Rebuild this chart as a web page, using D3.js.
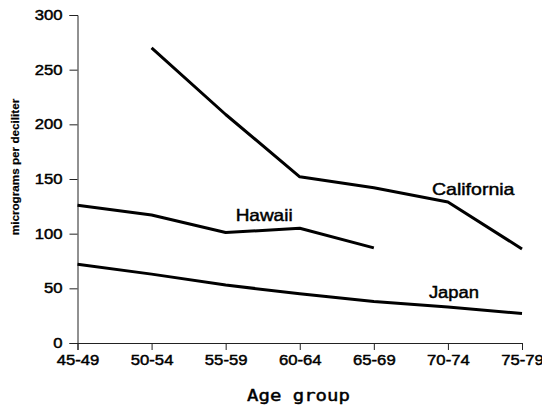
<!DOCTYPE html>
<html>
<head>
<meta charset="utf-8">
<script src="https://cdn.jsdelivr.net/npm/d3@7"></script>
<style>
  body { margin: 0; background: #fff; }
  svg { display: block; }
  .axis path, .axis line { stroke: #222; stroke-width: 1; }
  .axis text { font-family: "Liberation Sans", Arial, sans-serif; fill: #000; }
  /* scanned print looks heavier than a plain regular weight */
  text { stroke: #000; stroke-width: 0.45px; }
</style>
</head>
<body>
<svg id="chart" width="542" height="408"></svg>
<script>
var ageGroups = ["45-49", "50-54", "55-59", "60-64", "65-69", "70-74", "75-79"];
var yTicks = [0, 50, 100, 150, 200, 250, 300];

// null = no value for that age group
var california = [null, 270, 209, 152, 142, 129, 86];
var hawaii = [126, 117, 101, 105, 87, null, null];
var japan = [72, 63, 53, 45, 38, 33, 27];

var seriesNames = ["California", "Hawaii", "Japan"];

var STRETCH = 1.15; // the scan is a bit wider than tall

var svg = d3.select("#chart");

var xScale = d3.scalePoint().domain(ageGroups).range([77.5, 522]);
var yScale = d3.scaleLinear().domain([0, 300]).range([343, 15]);

function stretchText(sel) {
    sel.each(function () {
        var len = this.getComputedTextLength();
        d3.select(this)
            .attr("textLength", len * STRETCH)
            .attr("lengthAdjust", "spacingAndGlyphs");
    });
}

var xAxis = d3.axisBottom(xScale).tickSize(7).tickPadding(5);
var gx = svg.append("g")
    .attr("class", "axis")
    .attr("transform", "translate(0,343)")
    .call(xAxis);
gx.selectAll("text").style("font-size", "14.5px").attr("dy", "0.71em");

var yAxis = d3.axisLeft(yScale).tickValues(yTicks).tickSize(8).tickPadding(7);
var gy = svg.append("g")
    .attr("class", "axis")
    .attr("transform", "translate(77.5,0)")
    .call(yAxis);
gy.selectAll("text").style("font-size", "14.5px");

gx.selectAll("text").call(stretchText);
gy.selectAll("text").call(stretchText);

var line = d3.line()
    .defined(function (d) { return d != null; })
    .x(function (d, i) { return xScale(ageGroups[i]); })
    .y(function (d) { return yScale(d); });

svg.append("g")
    .selectAll("path")
    .data([california, hawaii, japan])
    .enter().append("path")
    .attr("d", line)
    .attr("fill", "none")
    .attr("stroke", "#000")
    .attr("stroke-width", 3)
    .attr("stroke-linejoin", "round");

// series labels, placed next to their lines
var labelPos = [
    { x: xScale("70-74") - 16, y: yScale(135), size: 17 },
    { x: xScale("55-59") + 10, y: yScale(112), size: 16.5 },
    { x: xScale("70-74") - 19, y: yScale(41), size: 16 }
];
svg.append("g")
    .selectAll("text")
    .data(seriesNames)
    .enter().append("text")
    .attr("x", function (d, i) { return labelPos[i].x; })
    .attr("y", function (d, i) { return labelPos[i].y; })
    .style("font-family", "'Liberation Sans', Arial, sans-serif")
    .style("font-size", function (d, i) { return labelPos[i].size + "px"; })
    .text(function (d) { return d; })
    .call(stretchText);

svg.append("text")
    .attr("x", 298.5)
    .attr("y", 401)
    .attr("text-anchor", "middle")
    .style("font-family", "'DejaVu Sans Mono', monospace")
    .style("font-size", "16.5px")
    .text("Age group")
    .call(stretchText);

svg.append("text")
    .attr("transform", "translate(18.5,167) rotate(-90)")
    .attr("text-anchor", "middle")
    .style("font-family", "'Liberation Sans', Arial, sans-serif")
    .style("font-size", "11.7px")
    .style("font-weight", "bold")
    .style("stroke-width", "0.2px")
    .text("micrograms per deciliter");
</script>
</body>
</html>
